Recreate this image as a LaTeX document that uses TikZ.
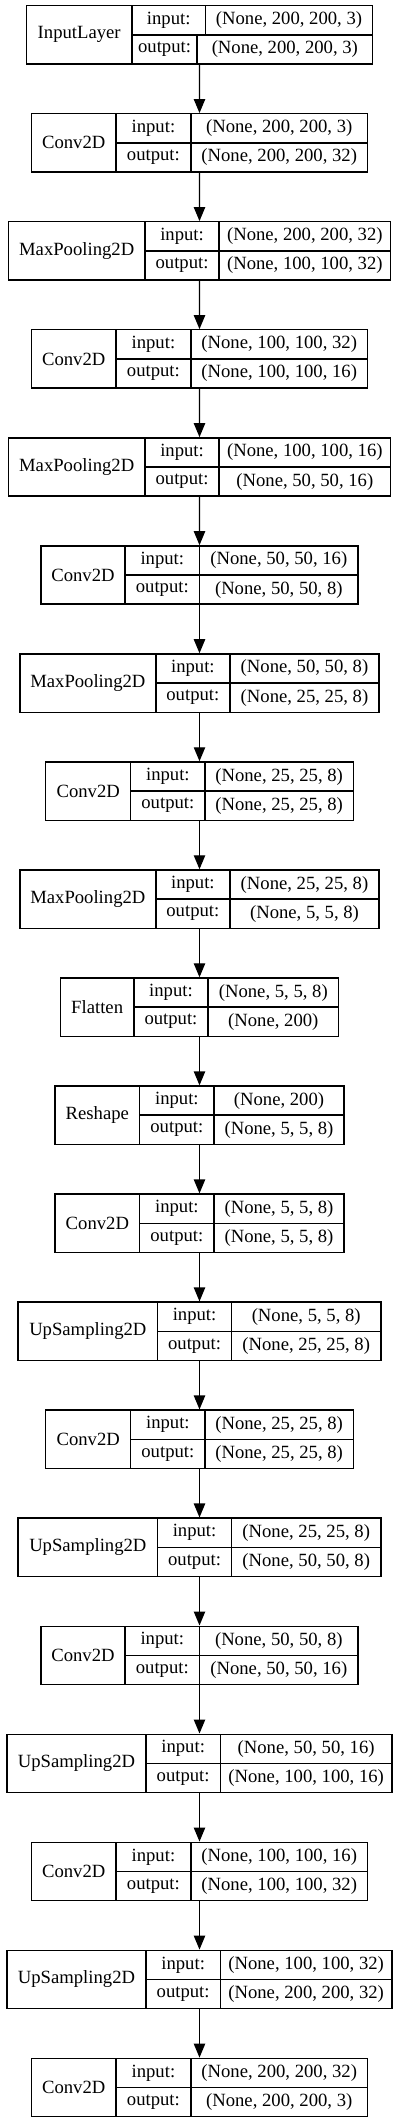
\documentclass[tikz,border=0pt]{standalone}
\usepackage{fontspec}
\setmainfont{Liberation Serif}
\usetikzlibrary{arrows.meta}

% one keras layer record: row, left, name split, input split, output split, right, name, in, out
\newcommand{\layerbox}[9]{%
  \pgfmathsetmacro{\ytop}{5.7+(#1-1)*108.03}%
  \pgfmathsetmacro{\ymid}{\ytop+29.15}%
  \pgfmathsetmacro{\ybot}{\ytop+58.3}%
  \pgfmathsetmacro{\dx}{199.5-(#2+#6)/2}%
  \begin{scope}[xshift=\dx*0.75pt]
    \node[record, minimum width={(#6-#2)*0.75pt}] (l#1) at ({(#2+#6)/2},\ymid) {};
    \draw[cellline] (#3,\ytop) -- (#3,\ybot) (#3,\ymid) -- (#6,\ymid)
      (#4,\ytop) -- (#4,\ymid) (#5,\ymid) -- (#5,\ybot);
    \node[cell] (l#1-name) at ({(#2+#3)/2},\ymid) {#7};
    \node[cell] (l#1-inkey) at ({(#3+#4)/2},{\ytop+14.6}) {input:};
    \node[cell] (l#1-outkey) at ({(#3+#5)/2},{\ybot-14.6}) {output:};
    \node[cell] (l#1-in) at ({(#4+#6)/2},{\ytop+14.6}) {#8};
    \node[cell] (l#1-out) at ({(#5+#6)/2},{\ybot-14.6}) {#9};
  \end{scope}}

\begin{document}
\begin{tikzpicture}[
  x=0.75pt, y=-0.75pt,
  record/.style={rectangle, draw, line width=1pt, minimum height=43.7pt, inner sep=0pt},
  cellline/.style={line width=1pt},
  cell/.style={inner sep=0pt, font=\fontsize{14}{16}\selectfont},
  arrow/.style={-{Triangle[length=10.5pt, width=8.5pt]}, line width=1pt}
]
\useasboundingbox (0,0) rectangle (400,2123);

\layerbox{1}{26}{131.7}{205}{196.7}{372.3}{InputLayer}{(None, 200, 200, 3)}{(None, 200, 200, 3)}
\layerbox{2}{32.3}{116.7}{191.7}{191.7}{368.3}{Conv2D}{(None, 200, 200, 3)}{(None, 200, 200, 32)}
\layerbox{3}{6}{142.7}{216.7}{216.7}{388.3}{MaxPooling2D}{(None, 200, 200, 32)}{(None, 100, 100, 32)}
\layerbox{4}{32.3}{116.7}{191.7}{191.7}{368.3}{Conv2D}{(None, 100, 100, 32)}{(None, 100, 100, 16)}
\layerbox{5}{6}{142.7}{216.7}{216.7}{388.3}{MaxPooling2D}{(None, 100, 100, 16)}{(None, 50, 50, 16)}
\layerbox{6}{41.7}{126}{200.3}{200.3}{359}{Conv2D}{(None, 50, 50, 16)}{(None, 50, 50, 8)}
\layerbox{7}{20.7}{156.7}{230.7}{230.7}{380}{MaxPooling2D}{(None, 50, 50, 8)}{(None, 25, 25, 8)}
\layerbox{8}{45.7}{130.7}{205}{205}{353.3}{Conv2D}{(None, 25, 25, 8)}{(None, 25, 25, 8)}
\layerbox{9}{20.7}{156.7}{230.7}{230.7}{380}{MaxPooling2D}{(None, 25, 25, 8)}{(None, 5, 5, 8)}
\layerbox{10}{60.7}{134.3}{208.3}{208.3}{339}{Flatten}{(None, 5, 5, 8)}{(None, 200)}
\layerbox{11}{55.3}{140}{214.3}{214.3}{344.3}{Reshape}{(None, 200)}{(None, 5, 5, 8)}
\layerbox{12}{55.3}{140}{214.3}{214.3}{344.3}{Conv2D}{(None, 5, 5, 8)}{(None, 5, 5, 8)}
\layerbox{13}{18.3}{157.7}{231.7}{231.7}{381}{UpSampling2D}{(None, 5, 5, 8)}{(None, 25, 25, 8)}
\layerbox{14}{45.7}{130.7}{205}{205}{353.3}{Conv2D}{(None, 25, 25, 8)}{(None, 25, 25, 8)}
\layerbox{15}{18.3}{157.7}{231.7}{231.7}{381}{UpSampling2D}{(None, 25, 25, 8)}{(None, 50, 50, 8)}
\layerbox{16}{41.7}{126}{200.3}{200.3}{359}{Conv2D}{(None, 50, 50, 8)}{(None, 50, 50, 16)}
\layerbox{17}{5}{144}{218.3}{218.3}{390}{UpSampling2D}{(None, 50, 50, 16)}{(None, 100, 100, 16)}
\layerbox{18}{32.3}{116.7}{191.7}{191.7}{368.3}{Conv2D}{(None, 100, 100, 16)}{(None, 100, 100, 32)}
\layerbox{19}{5}{144}{218.3}{218.3}{390}{UpSampling2D}{(None, 100, 100, 32)}{(None, 200, 200, 32)}
\layerbox{20}{32.3}{116.7}{191.7}{191.7}{368.3}{Conv2D}{(None, 200, 200, 32)}{(None, 200, 200, 3)}

\draw[arrow] (l1) -- (l2);
\draw[arrow] (l2) -- (l3);
\draw[arrow] (l3) -- (l4);
\draw[arrow] (l4) -- (l5);
\draw[arrow] (l5) -- (l6);
\draw[arrow] (l6) -- (l7);
\draw[arrow] (l7) -- (l8);
\draw[arrow] (l8) -- (l9);
\draw[arrow] (l9) -- (l10);
\draw[arrow] (l10) -- (l11);
\draw[arrow] (l11) -- (l12);
\draw[arrow] (l12) -- (l13);
\draw[arrow] (l13) -- (l14);
\draw[arrow] (l14) -- (l15);
\draw[arrow] (l15) -- (l16);
\draw[arrow] (l16) -- (l17);
\draw[arrow] (l17) -- (l18);
\draw[arrow] (l18) -- (l19);
\draw[arrow] (l19) -- (l20);
\end{tikzpicture}
\end{document}
